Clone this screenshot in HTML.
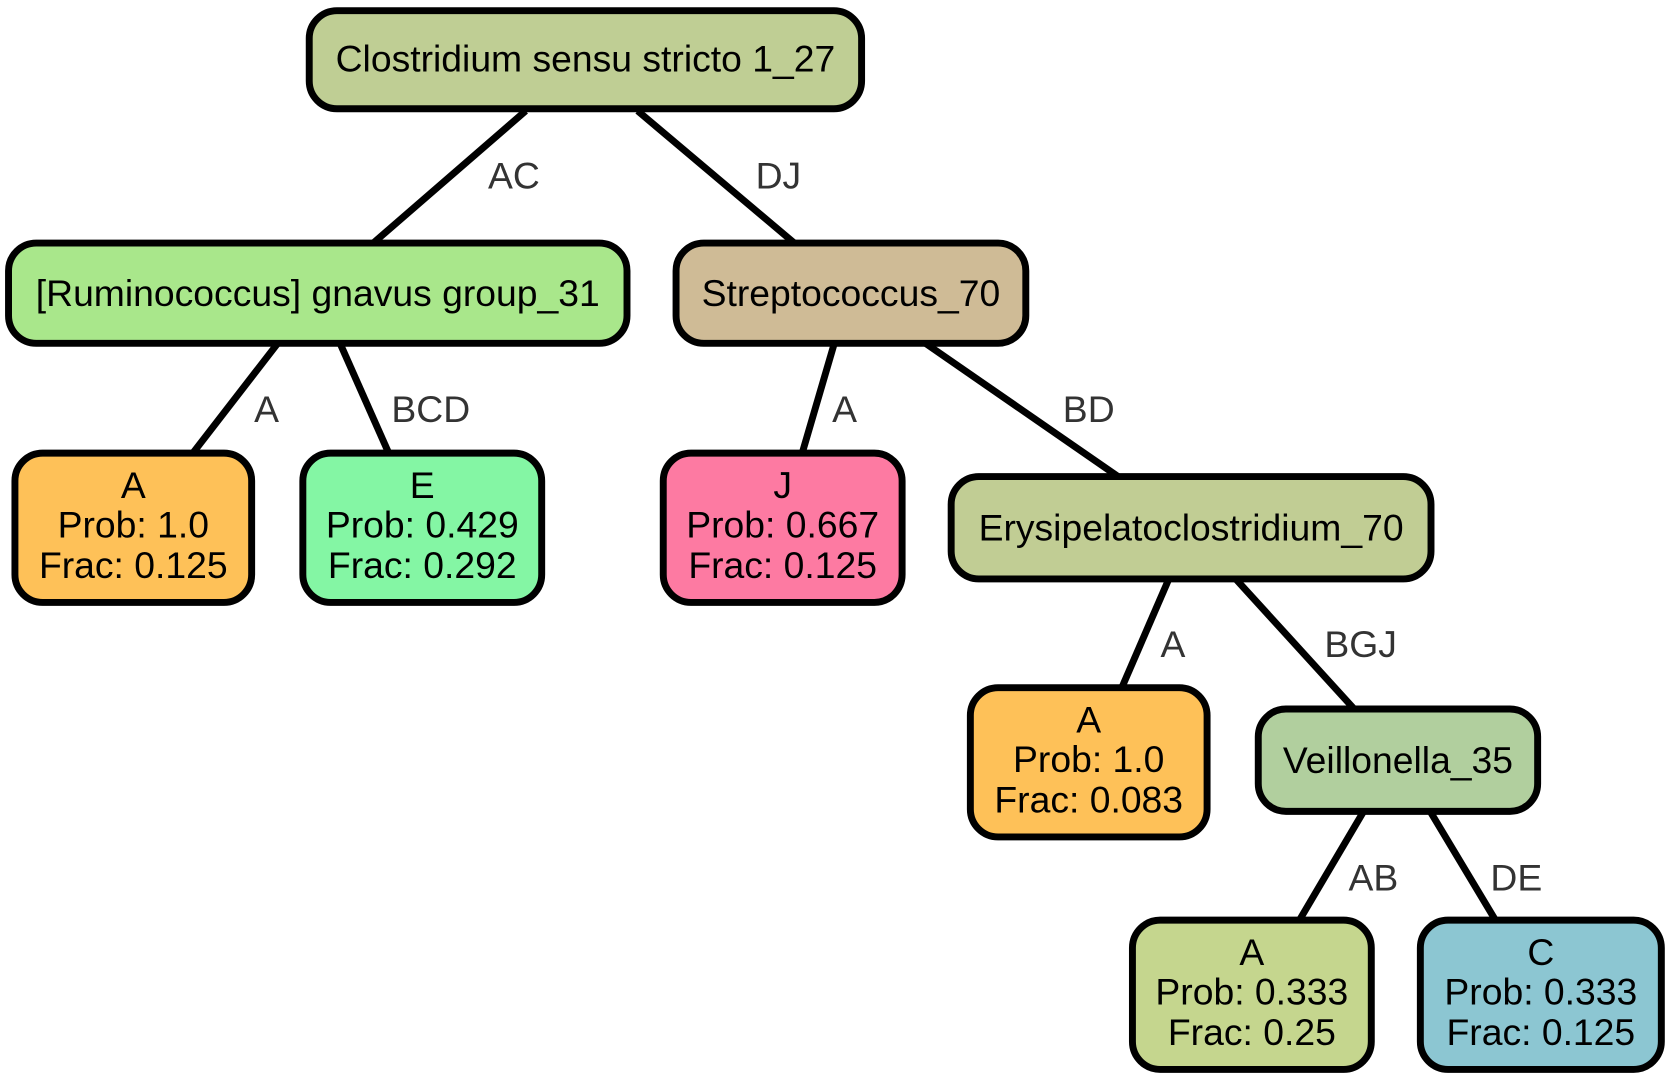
<!DOCTYPE html>
<html><head><meta charset="utf-8"><style>html,body{margin:0;padding:0;background:#fff}svg{display:block}</style></head><body>
<svg width="1672" height="1079" viewBox="0 0 1568 1012" preserveAspectRatio="none" xmlns="http://www.w3.org/2000/svg" font-family="Liberation Sans, Arial, sans-serif">
<g stroke="#000" stroke-width="6.5" fill="none">
<line x1="493" y1="104" x2="350" y2="228"/>
<line x1="598" y1="104" x2="745" y2="228"/>
<line x1="262" y1="320" x2="180" y2="426"/>
<line x1="318" y1="320" x2="365" y2="426"/>
<line x1="783" y1="320" x2="752" y2="426"/>
<line x1="865" y1="320" x2="1050" y2="448"/>
<line x1="1097" y1="541" x2="1052" y2="645"/>
<line x1="1157" y1="541" x2="1270" y2="665"/>
<line x1="1280" y1="759" x2="1218" y2="864"/>
<line x1="1340" y1="759" x2="1403" y2="864"/>
</g>
<g font-size="35" fill="#333" text-anchor="middle">
<text x="482" y="177">AC</text>
<text x="730" y="177">DJ</text>
<text x="250" y="396">A</text>
<text x="404" y="396">BCD</text>
<text x="792" y="396">A</text>
<text x="1021" y="396">BD</text>
<text x="1100" y="616">A</text>
<text x="1276" y="616">BGJ</text>
<text x="1288" y="835">AB</text>
<text x="1422" y="835">DE</text>
</g>
<g stroke="#000" stroke-width="6.5">
<rect x="290" y="10" width="518" height="92" rx="26" fill="#bfce94"/>
<rect x="8" y="228" width="580" height="94" rx="26" fill="#a9e78b"/>
<rect x="634" y="228" width="328" height="94" rx="26" fill="#cfbb96"/>
<rect x="14" y="425" width="222" height="140" rx="26" fill="#fec158"/>
<rect x="284" y="425" width="224" height="140" rx="26" fill="#84f6a4"/>
<rect x="622" y="425" width="224" height="140" rx="26" fill="#fd7aa2"/>
<rect x="892" y="447" width="450" height="96" rx="26" fill="#c1cd94"/>
<rect x="910" y="645" width="222" height="140" rx="26" fill="#fec158"/>
<rect x="1180" y="665" width="262" height="96" rx="26" fill="#b1cf9e"/>
<rect x="1062" y="863" width="224" height="140" rx="26" fill="#c5d68e"/>
<rect x="1332" y="863" width="226" height="140" rx="26" fill="#8cc6d2"/>
</g>
<g font-size="35" fill="#000" text-anchor="middle">
<text x="549" y="67">Clostridium sensu stricto 1_27</text>
<text x="298" y="287">[Ruminococcus] gnavus group_31</text>
<text x="798" y="287">Streptococcus_70</text>
<text x="1117" y="507">Erysipelatoclostridium_70</text>
<text x="1311" y="725">Veillonella_35</text>
<text x="125" y="467">A</text><text x="125" y="504">Prob: 1.0</text><text x="125" y="542">Frac: 0.125</text>
<text x="396" y="467">E</text><text x="396" y="504">Prob: 0.429</text><text x="396" y="542">Frac: 0.292</text>
<text x="734" y="467">J</text><text x="734" y="504">Prob: 0.667</text><text x="734" y="542">Frac: 0.125</text>
<text x="1021" y="687">A</text><text x="1021" y="724">Prob: 1.0</text><text x="1021" y="762">Frac: 0.083</text>
<text x="1174" y="905">A</text><text x="1174" y="942">Prob: 0.333</text><text x="1174" y="980">Frac: 0.25</text>
<text x="1445" y="905">C</text><text x="1445" y="942">Prob: 0.333</text><text x="1445" y="980">Frac: 0.125</text>
</g>
</svg>
</body></html>
